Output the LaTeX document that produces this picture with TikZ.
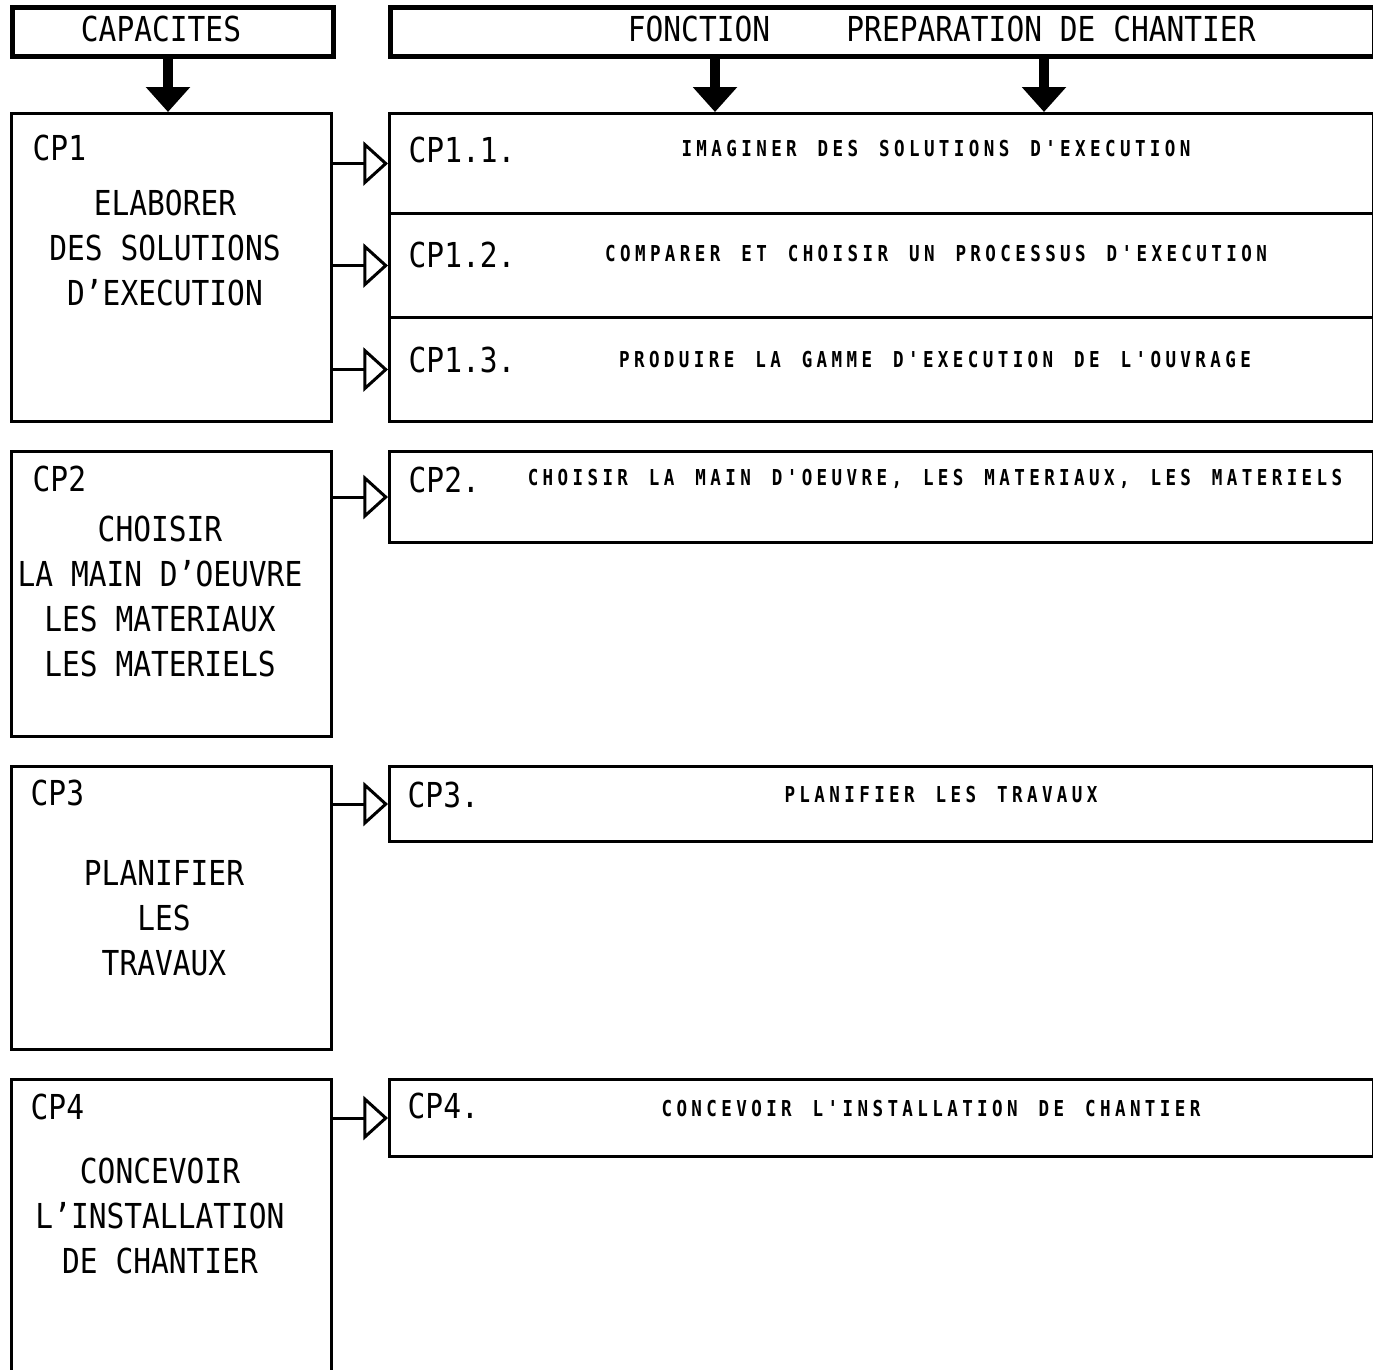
\documentclass[tikz,border=0pt]{standalone}
\usepackage{fontspec}
\usetikzlibrary{arrows.meta, positioning, math}
\newfontfamily\plotfont[FakeStretch=0.86]{DejaVu Sans Mono}
\newfontfamily\plotsmall[FakeStretch=0.8, LetterSpace=20, WordSpace=1.4]{DejaVu Sans Mono Bold}

\tikzset{
hdr/.style={draw, line width=1.5pt, inner sep=0, anchor=north west, minimum height=0.49cm},
lbox/.style={draw, line width=0.85pt, inner sep=0, anchor=north west, minimum width=3.2cm},
rbox/.style={draw, line width=0.85pt, inner sep=0, anchor=north west, minimum width=9.83cm},
big/.style={font=\plotfont\fontsize{9.77pt}{12.8pt}\selectfont, inner sep=0},
small/.style={font=\plotsmall\fontsize{6.24pt}{7pt}\selectfont, inner sep=0},
lbl/.style={big, anchor=base west},
body/.style={big, align=center},
bigarrow/.style={line width=3.1pt, -{Triangle[length=7.1pt, width=12.2pt]}},
link/.style={line width=0.85pt, -{Triangle[open, length=7pt, width=12.5pt, fill=white]}},
}

\begin{document}
\begin{tikzpicture}[x=0.01cm, y=-0.01cm]
\useasboundingbox (0,0) rectangle (1373,1369);

% headers
\node[hdr, minimum width=3.21cm] (cap) at (10,5) {};
\node[big] (captext) at (161,29) {CAPACITES};
\node[hdr, minimum width=9.83cm] (fct) at (388,5) {};
\node[big] (fonction) at (699,29) {FONCTION};
\node[big] (prep) at (1051,29) {PREPARATION DE CHANTIER};
\coordinate (c1) at (168,80);
\coordinate (f1) at (715,80);
\coordinate (f2) at (1044,80);

% capacites
\node[lbox, minimum height=3.08cm] (cp1) at (10,112) {};
\node[lbox, minimum height=2.85cm] (cp2) at (10,450) {};
\node[lbox, minimum height=2.83cm] (cp3) at (10,765) {};
\node[lbox, minimum height=3.0cm] (cp4) at (10,1078) {};

\node[lbl] (cp1n) at ([shift={(22,48)}]cp1.north west) {CP1};
\node[lbl] (cp2n) at ([shift={(22,41)}]cp2.north west) {CP2};
\node[lbl] (cp3n) at ([shift={(20,40)}]cp3.north west) {CP3};
\node[lbl] (cp4n) at ([shift={(20,41)}]cp4.north west) {CP4};

\node[body] (cp1t) at (165,248) {ELABORER\\DES SOLUTIONS\\D’EXECUTION};
\node[body] (cp2t) at (160,596) {CHOISIR\\LA MAIN D’OEUVRE\\LES MATERIAUX\\LES MATERIELS};
\node[body] (cp3t) at (164,918) {PLANIFIER\\LES\\TRAVAUX};
\node[body] (cp4t) at (160,1216) {CONCEVOIR\\L’INSTALLATION\\DE CHANTIER};

% fonction
\node[rbox, minimum height=1.0cm] (cp11) at (388,112) {};
\node[rbox, minimum height=1.04cm] (cp12) at (388,212) {};
\node[rbox, minimum height=1.04cm] (cp13) at (388,316) {};
\node[rbox, minimum height=0.91cm] (fcp2) at (388,450) {};
\node[rbox, minimum height=0.75cm] (fcp3) at (388,765) {};
\node[rbox, minimum height=0.77cm] (fcp4) at (388,1078) {};

\node[lbl] (cp11n) at ([shift={(20,50)}]cp11.north west) {CP1.1.};
\node[lbl] (cp12n) at ([shift={(20,55)}]cp12.north west) {CP1.2.};
\node[lbl] (cp13n) at ([shift={(20,56)}]cp13.north west) {CP1.3.};
\node[lbl] (fcp2n) at ([shift={(20,42)}]fcp2.north west) {CP2.};
\node[lbl] (fcp3n) at ([shift={(19,42)}]fcp3.north west) {CP3.};
\node[lbl] (fcp4n) at ([shift={(19,40)}]fcp4.north west) {CP4.};

\node[small] (cp11t) at (936,149) {IMAGINER DES SOLUTIONS D'EXECUTION};
\node[small] (cp12t) at (936,254) {COMPARER ET CHOISIR UN PROCESSUS D'EXECUTION};
\node[small] (cp13t) at (935,359) {PRODUIRE LA GAMME D'EXECUTION DE L'OUVRAGE};
\node[small] (fcp2t) at (935,479) {CHOISIR LA MAIN D'OEUVRE, LES MATERIAUX, LES MATERIELS};
\node[small] (fcp3t) at (941,794) {PLANIFIER LES TRAVAUX};
\node[small] (fcp4t) at (931,1108) {CONCEVOIR L'INSTALLATION DE CHANTIER};

% arrows
\draw[bigarrow] (cap.south -| c1) -- (cp1.north -| c1);
\draw[bigarrow] (fct.south -| f1) -- (cp11.north -| f1);
\draw[bigarrow] (fct.south -| f2) -- (cp11.north -| f2);

\draw[link] (cp1.east |- cp11.center) -- (cp11.west);
\draw[link] (cp1.east |- cp12.center) -- (cp12.west);
\draw[link] (cp1.east |- cp13.center) -- (cp13.west);
\draw[link] (cp2.east |- fcp2.center) -- (fcp2.west);
\draw[link] (cp3.east |- fcp3.center) -- (fcp3.west);
\draw[link] (cp4.east |- fcp4.center) -- (fcp4.west);
\end{tikzpicture}
\end{document}
